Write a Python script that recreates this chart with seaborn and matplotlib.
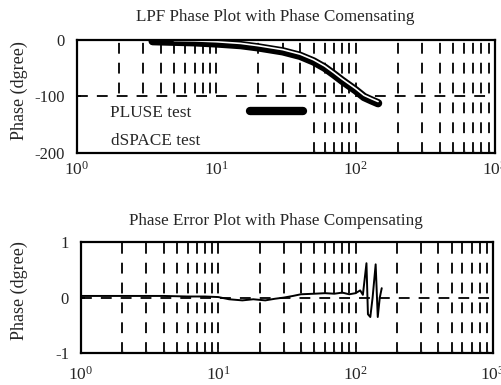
import numpy as np
import pandas as pd
import matplotlib
matplotlib.use("Agg")
import matplotlib.pyplot as plt
import seaborn as sns
from matplotlib.ticker import LogLocator

# ---- data ----
freq_pluse = [3.5, 5, 7, 10, 15, 20, 30, 40, 50, 60, 70, 80, 90, 100, 115, 130, 145]
phase_pluse = [-2, -3, -4, -6, -9, -13, -20, -28, -38, -49, -61, -72, -81, -89, -101, -107, -112]

freq_dspace = [5, 7, 10, 15, 20, 30, 40, 50, 60, 70, 80, 90, 100, 115, 130, 145]
phase_dspace = [-1, -1.5, -3, -6, -10, -17, -25, -35, -46, -58, -69, -78, -86, -98, -104, -109]

freq_err = [1, 2, 3, 4, 6, 8, 10, 12, 15, 18, 22, 26, 30, 35, 40, 50, 60, 70, 80, 90, 100,
            108, 113, 120, 123, 128, 133, 140, 145, 150, 155]
phase_err = [0.03, 0.03, 0.03, 0.03, 0.02, 0.02, 0.01, -0.03, -0.05, -0.03, -0.05, -0.02, 0.0,
             0.03, 0.06, 0.07, 0.08, 0.07, 0.09, 0.06, 0.08,
             0.13, 0.05, 0.62, -0.30, -0.35, 0.0, 0.60, -0.35, 0.0, 0.17]

top_yticks = [0, -100, -200]
bot_yticks = [1, 0, -1]
top_title = "LPF Phase Plot with Phase Comensating"
bot_title = "Phase Error Plot with Phase Compensating"
ylabel_top = "Phase (dgree)"
ylabel_bot = "Phase (dgree)"
legend_labels = ["PLUSE test  ", "dSPACE test"]

# ---- style ----
sns.set_theme(style="white")
plt.rcParams['font.family'] = ['Liberation Serif', 'DejaVu Serif']
plt.rcParams['mathtext.fontset'] = 'custom'
plt.rcParams['mathtext.rm'] = 'Liberation Serif'
plt.rcParams['mathtext.it'] = 'Liberation Serif:italic'
plt.rcParams['mathtext.default'] = 'regular'
plt.rcParams['axes.unicode_minus'] = False

fig = plt.figure(figsize=(5.02, 3.85), dpi=100)
ax1 = fig.add_axes([0.153, 0.603, 0.833, 0.293])
ax2 = fig.add_axes([0.161, 0.083, 0.821, 0.288])

grid_kw = dict(color='black', linestyle=(0, (6, 5)), linewidth=1.3)

df_p = pd.DataFrame({'f': freq_pluse, 'ph': phase_pluse})
df_d = pd.DataFrame({'f': freq_dspace, 'ph': phase_dspace})
df_e = pd.DataFrame({'f': freq_err, 'ph': phase_err})

sns.lineplot(data=df_p, x='f', y='ph', ax=ax1, color='black', linewidth=6,
             estimator=None, sort=False, label=legend_labels[0])
sns.lineplot(data=df_d, x='f', y='ph', ax=ax1, color='white', linewidth=1.2,
             estimator=None, sort=False, label=legend_labels[1])
sns.lineplot(data=df_e, x='f', y='ph', ax=ax2, color='black', linewidth=1.4,
             estimator=None, sort=False, legend=False)

for ax, yt, yl, title, ylab, tx, tpad in [
        (ax1, top_yticks, (-200, 0), top_title, ylabel_top, 0.474, 14),
        (ax2, bot_yticks, (-1, 1), bot_title, ylabel_bot, 0.473, 12)]:
    ax.set_xscale('log')
    ax.set_xlim(1, 1000)
    ax.set_ylim(*yl)
    ax.set_yticks(yt)
    ax.xaxis.set_major_locator(LogLocator(base=10, numticks=10))
    ax.xaxis.set_minor_locator(LogLocator(base=10, subs=np.arange(2, 10), numticks=20))
    ax.grid(True, which='both', axis='x', **grid_kw)
    ax.grid(True, which='major', axis='y', **grid_kw)
    ax.set_axisbelow(True)
    ax.set_xlabel('')
    ax.set_ylabel(ylab, fontsize=13)
    ax.set_title(title, fontsize=12.3, pad=tpad, x=tx)
    ax.tick_params(axis='y', which='major', labelsize=12, direction='in',
                   length=3, color='black', pad=8.5, left=True)
    ax.tick_params(axis='x', which='minor', direction='in', length=2, bottom=True)
    for s in ax.spines.values():
        s.set_color('black')
        s.set_linewidth(1.6)
        s.set_zorder(3)
    ax.set_facecolor('white')

ax1.tick_params(axis='x', which='major', labelsize=12.5, pad=6, direction='in',
                length=3, bottom=True)
ax2.tick_params(axis='x', which='major', labelsize=12.5, pad=9, direction='in',
                length=3, bottom=True)

ax1.yaxis.set_label_coords(-0.117, 0.55)
ax2.yaxis.set_label_coords(-0.129, 0.565)

leg = ax1.legend(loc='lower left', bbox_to_anchor=(0.072, 0.0), borderaxespad=0.0,
                 frameon=True, fancybox=False, facecolor='white', edgecolor='none',
                 framealpha=1.0, markerfirst=False, fontsize=12.4, handlelength=3.1,
                 handletextpad=2.85, labelspacing=0.72, borderpad=0.2)
leg.set_zorder(2.2)

fig.savefig('out.png', dpi=100, facecolor='white')
